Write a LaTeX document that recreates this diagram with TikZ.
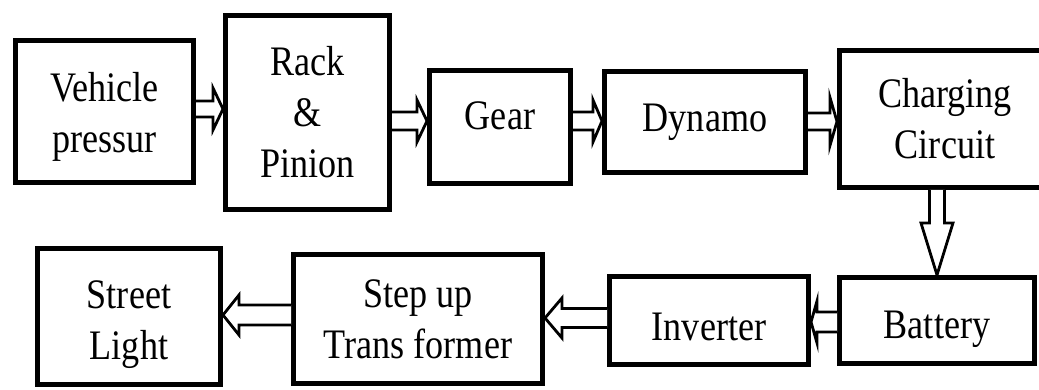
\documentclass[tikz,border=0pt]{standalone}
\usepackage{fontspec}
\usepackage{graphicx}
\setmainfont{Liberation Serif}
\usetikzlibrary{calc}
\tikzset{
  box/.style={draw, line width=5pt, align=center, inner sep=0pt, font=\fontsize{42}{51}\selectfont},
  blk/.style={draw, line width=2.8pt, line join=miter, fill=white},
}
% right-pointing block arrow: from #1.east to #2.west at level #3; shaft half #4, head half #5, head length #6
\newcommand\rarr[6]{\draw[blk] ($(#1.east |- #3)+(0,-#4)$) -- ($(#2.west |- #3)+(-#6,-#4)$) -- ($(#2.west |- #3)+(-#6,-#5)$) -- (#2.west |- #3) -- ($(#2.west |- #3)+(-#6,#5)$) -- ($(#2.west |- #3)+(-#6,#4)$) -- ($(#1.east |- #3)+(0,#4)$);}
% left-pointing block arrow: from #1.west to #2.east
\newcommand\larr[6]{\draw[blk] ($(#1.west |- #3)+(0,-#4)$) -- ($(#2.east |- #3)+(#6,-#4)$) -- ($(#2.east |- #3)+(#6,-#5)$) -- (#2.east |- #3) -- ($(#2.east |- #3)+(#6,#5)$) -- ($(#2.east |- #3)+(#6,#4)$) -- ($(#1.west |- #3)+(0,#4)$);}
% downward block arrow: from #1.south to #2.north at column #3
\newcommand\darr[6]{\draw[blk] ($(#3 |- #1.south)+(-#4,0)$) -- ($(#3 |- #2.north)+(-#4,-#6)$) -- ($(#3 |- #2.north)+(-#5,-#6)$) -- (#3 |- #2.north) -- ($(#3 |- #2.north)+(#5,-#6)$) -- ($(#3 |- #2.north)+(#4,-#6)$) -- ($(#3 |- #1.south)+(#4,0)$);}
\newcommand\lift[1]{\rule{0pt}{#1pt}}
\newcommand\sq[1]{\scalebox{0.86}[1]{#1}}
\begin{document}
\begin{tikzpicture}[x=1pt,y=-1pt]
\useasboundingbox[fill=white] (0,0) rectangle (1039,390);
\coordinate (edge) at (1039,0);
\coordinate (ya) at (0,109);
\coordinate (yb) at (0,121);
\coordinate (yc) at (0,121.5);
\coordinate (yd) at (0,322);
\coordinate (ye) at (0,318);
\coordinate (yf) at (0,315);
\coordinate (xd) at (937,0);
% top row
\node[box, minimum width=178pt, minimum height=142pt] (veh) at (104.5,111.5) {\lift{39}\sq{Vehicle}\\\sq{pressur}};
\node[box, minimum width=164pt, minimum height=194pt] (rack) at (307.5,112.5) {\sq{Rack}\\\sq{\&}\\\sq{Pinion}};
\node[box, minimum width=141pt, minimum height=113pt, text height=6pt, text depth=0pt] (gear) at (500,127) {\sq{Gear}};
\node[box, minimum width=201pt, minimum height=101pt, text height=20pt, text depth=0pt] (dyn) at (705,122) {\sq{Dynamo}};
\node[box, draw=none, minimum width=211pt, minimum height=137pt] (chg) at (945,119) {\sq{Charging}\\\sq{Circuit}};
\coordinate (cnw) at ([shift={(2.5,2.5)}]chg.north west);
\coordinate (csw) at ([shift={(2.5,-2.5)}]chg.south west);
\draw[line width=5pt] (cnw -| edge) -- (cnw) -- (csw) -- (csw -| edge);
% bottom row
\node[box, minimum width=195pt, minimum height=86pt, text height=35pt, text depth=0pt] (bat) at (937,320.5) {\sq{Battery}};
\node[box, minimum width=199pt, minimum height=88pt, text height=39pt, text depth=0pt] (inv) at (709,320.5) {\sq{Inverter}};
\node[box, minimum width=249pt, minimum height=129pt] (step) at (418,319) {\sq{Step up}\\\sq{Trans former}};
\node[box, minimum width=183pt, minimum height=136pt] (street) at (129,316.5) {\lift{44}\sq{Street}\\\sq{Light}};
% arrows
\rarr{veh}{rack}{ya}{8}{21}{10}
\rarr{rack}{gear}{yb}{9}{21}{10}
\rarr{gear}{dyn}{yb}{9}{21}{9}
\rarr{dyn}{chg}{yc}{8.5}{24}{7}
\darr{chg}{bat}{xd}{7.5}{16}{52}
\larr{bat}{inv}{yd}{10}{21}{6}
\larr{inv}{step}{ye}{9.5}{20}{17}
\larr{step}{street}{yf}{10}{20}{16}
\end{tikzpicture}
\end{document}
